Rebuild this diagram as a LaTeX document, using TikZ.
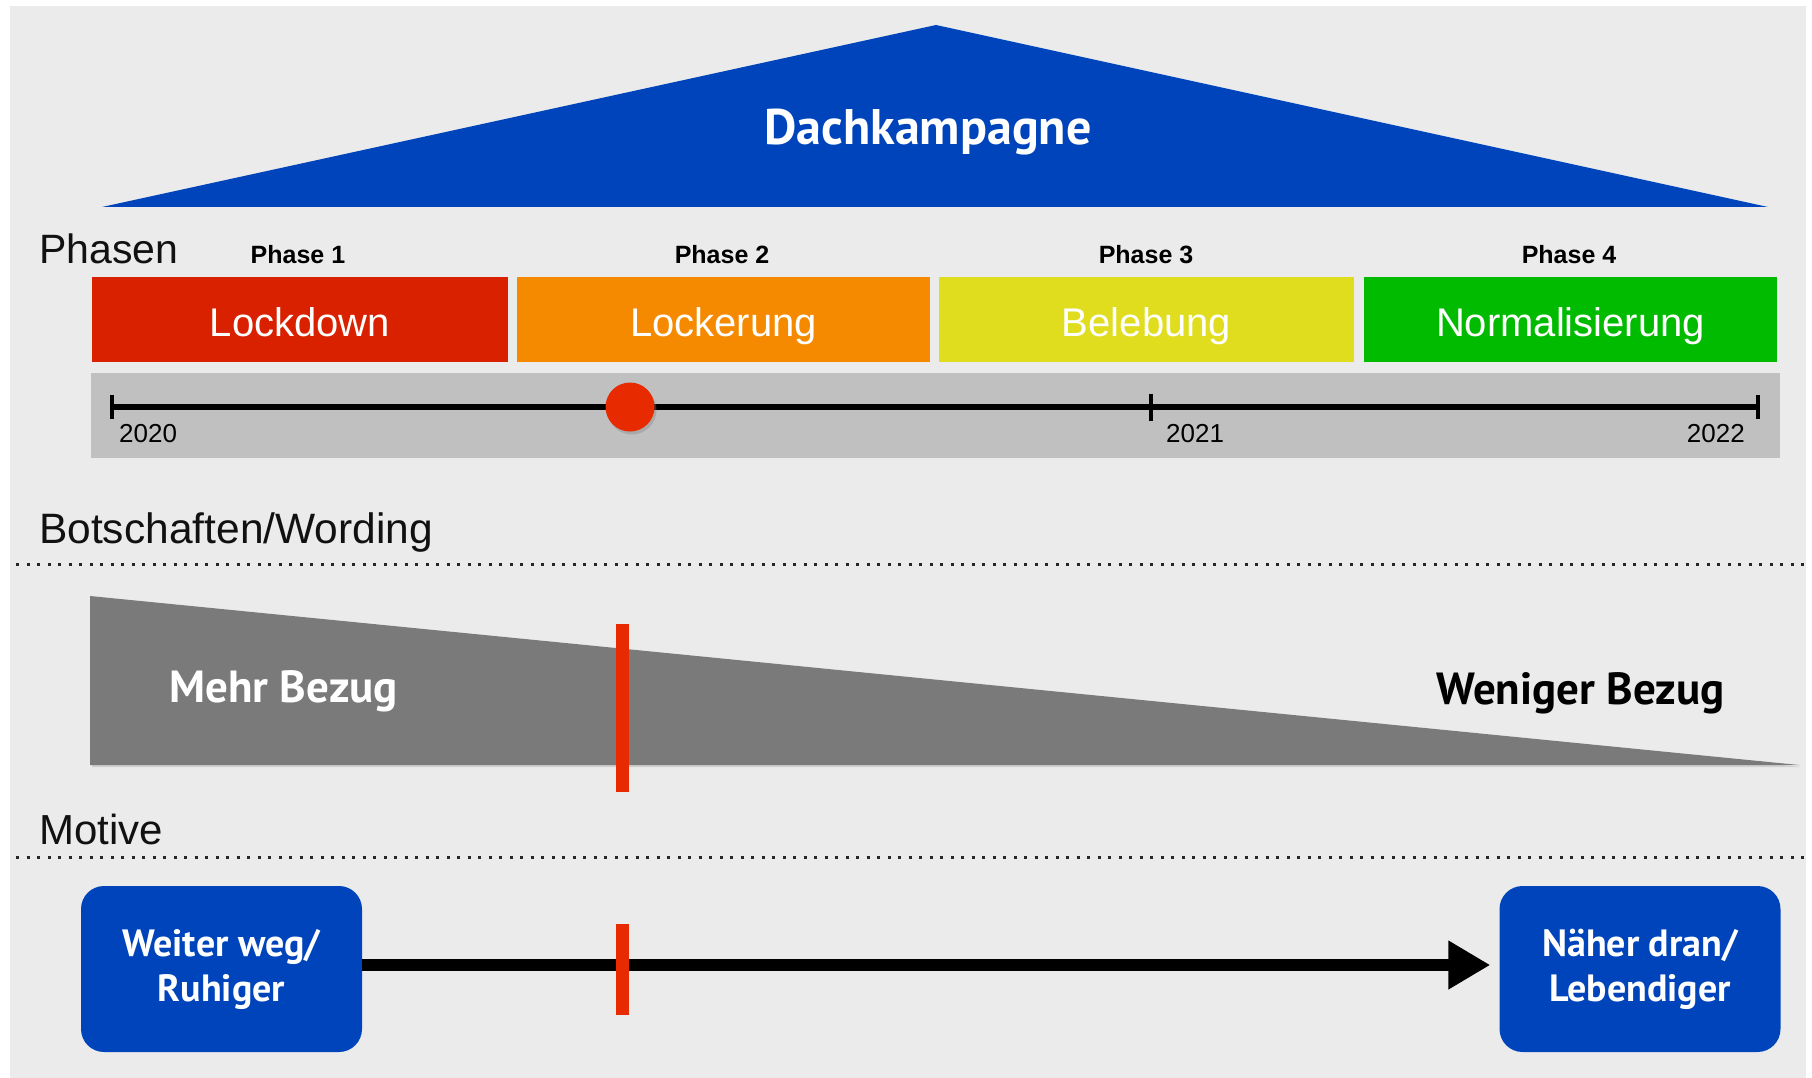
\documentclass[tikz,border=0pt]{standalone}
\usepackage{fontspec}
\setmainfont{Liberation Sans}
\newfontfamily\myr{PT Sans}
\usetikzlibrary{shadows,arrows.meta}
\definecolor{bgc}{HTML}{EBEBEB}
\definecolor{dblue}{HTML}{0044BB}
\definecolor{pred}{HTML}{D92100}
\definecolor{porange}{HTML}{F58A00}
\definecolor{pyellow}{HTML}{E0DD1E}
\definecolor{pgreen}{HTML}{00BB00}
\definecolor{tlgray}{HTML}{C0C0C0}
\definecolor{dotred}{HTML}{E82A00}
\definecolor{wedgegray}{HTML}{7A7A7A}
\definecolor{lbl}{HTML}{111111}
\begin{document}
\begin{tikzpicture}[x=1pt,y=-1pt,
  phasebox/.style={minimum width=#1, minimum height=85pt, inner sep=0pt, text height=36pt, text depth=3pt, text=white, font=\fontsize{40}{46}\selectfont},
  phaselbl/.style={font=\bfseries\fontsize{25}{29}\selectfont, text=black},
  seclbl/.style={anchor=base west, font=\fontsize{41}{48}\selectfont, text=lbl, inner sep=0pt},
  yearlbl/.style={font=\fontsize{26}{30}\selectfont, text=black, inner sep=0pt},
  dotline/.style={line width=3pt, dash pattern=on 3pt off 7.5pt, black!85},
  bezug/.style={font=\myr\bfseries\fontsize{45}{50}\selectfont, inner sep=0pt},
  motbox/.style={fill=dblue, rounded corners=23pt, minimum width=281pt, minimum height=166pt, text=white, align=center, font=\myr\bfseries\fontsize{38}{45}\selectfont},
  redbar/.style={fill=dotred}
]
\useasboundingbox (0,0) rectangle (1812,1078);
\fill[white] (0,0) rectangle (1812,1078);
\fill[bgc] (10,6) rectangle (1806,1078);

% roof
\fill[dblue] (936,25) -- (1768,207) -- (102,207) -- cycle;
\node[font=\myr\bfseries\fontsize{50}{56}\selectfont, text=white] (dach) at (928,132) {Dachkampagne};

% Phasen
\node[seclbl] (phasen) at (39,263) {Phasen};
\node[phaselbl] (ph1) at (298,255) {Phase 1};
\node[phaselbl] (ph2) at (722,255) {Phase 2};
\node[phaselbl] (ph3) at (1146,255) {Phase 3};
\node[phaselbl] (ph4) at (1569,255) {Phase 4};

\node[phasebox=416pt, fill=pred] (b1) at (300,319.5) {Lockdown};
\node[phasebox=413pt, fill=porange] (b2) at (723.5,319.5) {Lockerung};
\node[phasebox=415pt, fill=pyellow] (b3) at (1146.5,319.5) {Belebung};
\node[phasebox=413pt, fill=pgreen] (b4) at (1570.5,319.5) {Normalisierung};

% timeline
\node[fill=tlgray, minimum width=1689pt, minimum height=85pt, inner sep=0pt] (tl) at (935.5,415.5) {};
\coordinate (t0) at (112,407);
\coordinate (t1) at (1151,407);
\coordinate (t2) at (1758,407);
\draw[line width=6pt] (t0) -- (t2);
\draw[line width=4pt] ([yshift=-12pt]t0) -- ([yshift=12pt]t0);
\draw[line width=4pt] ([yshift=-14pt]t1) -- ([yshift=13pt]t1);
\draw[line width=4pt] ([yshift=-12pt]t2) -- ([yshift=12pt]t2);
\node[yearlbl, anchor=west] (y0) at (119,434) {2020};
\node[yearlbl, anchor=west] (y1) at (1166,434) {2021};
\node[yearlbl, anchor=east] (y2) at (1745,434) {2022};
\node[circle, fill=dotred, minimum size=49pt, inner sep=0pt, drop shadow={opacity=0.35, shadow xshift=2pt, shadow yshift=-3pt}] (dot) at (630,407) {};

% Botschaften
\node[seclbl, font=\fontsize{42.5}{48}\selectfont] (bot) at (39,543) {Botschaften/Wording};
\draw[dotline] (16,564) -- (1812,564);
\fill[wedgegray, drop shadow={opacity=0.25, shadow xshift=2pt, shadow yshift=-2pt}] (90,596) -- (1799,765) -- (90,765) -- cycle;
\node[bezug, text=white, anchor=west] (mehr) at (169,691) {Mehr Bezug};
\node[bezug, text=black, anchor=east] (weniger) at (1725,693) {Weniger Bezug};
\fill[redbar] (616,624) rectangle (629,792);

% Motive
\node[seclbl, font=\fontsize{42}{48}\selectfont] (motive) at (39,844) {Motive};
\draw[dotline] (16,857) -- (1812,857);
\node[motbox] (left) at (221.5,969) {Weiter weg/\\Ruhiger};
\node[motbox] (right) at (1640,969) {Näher dran/\\Lebendiger};
\draw[line width=12pt, -{Triangle[length=42pt,width=46pt]}, shorten >=9pt] ([yshift=4pt]left.east) -- ([yshift=4pt]right.west);
\fill[redbar] (616,924) rectangle (629,1015);
\end{tikzpicture}
\end{document}
